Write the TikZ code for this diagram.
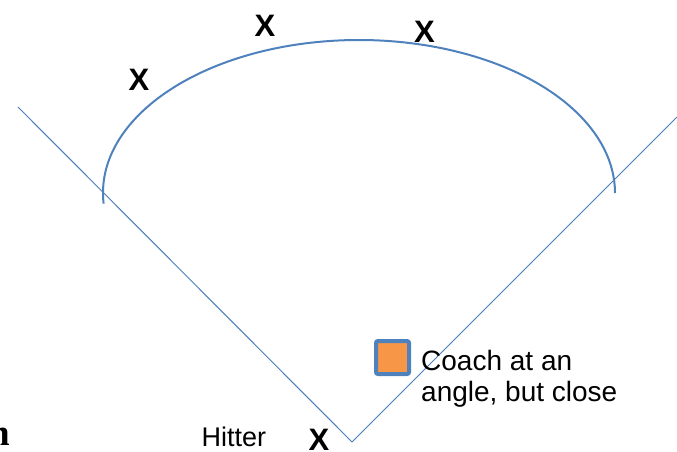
\documentclass[tikz,border=0pt]{standalone}
\usepackage{fontspec}
\setmainfont{Liberation Sans}
\newfontfamily\serifb{Liberation Serif}
\definecolor{lineblue}{HTML}{4A7EBB}
\definecolor{arcblue}{HTML}{4F81BD}
\definecolor{coachorange}{HTML}{F79646}
\begin{document}
\begin{tikzpicture}[x=1pt,y=-1pt,
  fieldline/.style={draw=lineblue,line width=1pt},
  xmark/.style={inner sep=0pt,anchor=base,font=\fontsize{31}{34}\selectfont\bfseries},
  label/.style={inner sep=0pt,anchor=base west,font=\fontsize{28}{31}\selectfont}]
\useasboundingbox (0,0) rectangle (677,452);
\coordinate (lefttop) at (18,107);
\coordinate (home) at (352,442);
\coordinate (righttop) at (677,117);
\draw[fieldline] (lefttop) -- (home);
\draw[fieldline] (home) -- (righttop);
\draw[arcblue,line width=2pt] ([shift={(176:256 and 153)}]359,193) arc[start angle=176,end angle=360,x radius=256,y radius=153];
\node[xmark] (x1) at (139,90) {X};
\node[xmark] (x2) at (265,36.5) {X};
\node[xmark] (x3) at (424.5,42.5) {X};
\node[xmark] (x4) at (319,450) {X};
\node[label,font=\fontsize{27}{31}\selectfont] (hitter) at (201.5,446.5) {Hitter};
\node[draw=arcblue,fill=coachorange,line width=4pt,rounded corners=2pt,minimum size=33pt,inner sep=0pt] (coach) at (392.5,357.5) {};
\node[label] (c1) at (421,370.5) {Coach at an};
\node[label] (c2) at (421,401) {angle, but close};
\node[inner sep=0pt,anchor=base east,font=\serifb\fontsize{37}{40}\selectfont\bfseries] (nfrag) at (10,445) {n};
\end{tikzpicture}
\end{document}
